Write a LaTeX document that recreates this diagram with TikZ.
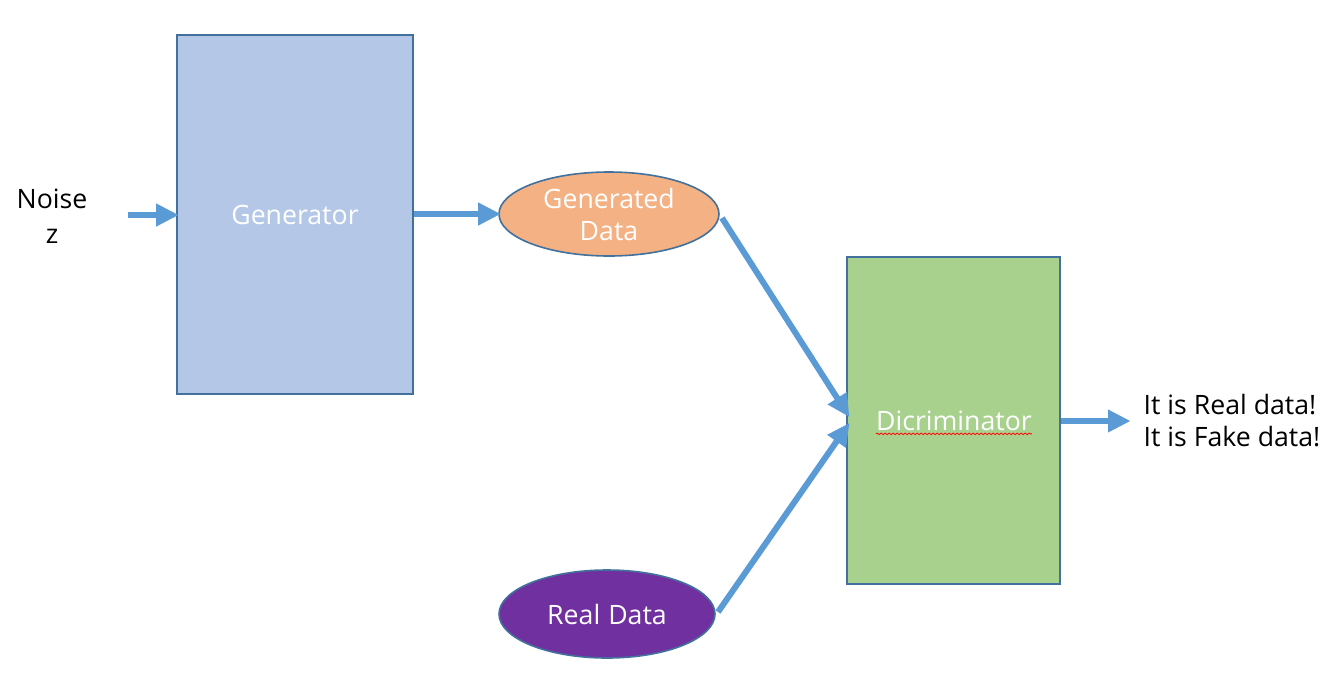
\documentclass[tikz,border=0pt]{standalone}
\usepackage{fontspec}
\setmainfont{Open Sans}
\usetikzlibrary{arrows.meta,shapes.geometric,decorations.pathmorphing}
\definecolor{genblue}{HTML}{B4C7E7}
\definecolor{edge}{HTML}{41719C}
\definecolor{arrowblue}{HTML}{5B9BD5}
\definecolor{orangefill}{HTML}{F4B183}
\definecolor{greenfill}{HTML}{A9D18E}
\definecolor{purplefill}{HTML}{7030A0}
\tikzset{
  box/.style={draw=edge, line width=1.2pt, inner sep=0pt, font=\fontsize{20}{24}\selectfont, text=white},
  oval/.style={ellipse, draw=edge, line width=1.2pt, inner sep=0pt, font=\fontsize{20}{24}\selectfont, text=white, align=center},
  flow/.style={draw=arrowblue, line width=4.5pt, -{Triangle[length=17pt,width=16pt]}, shorten >=-2pt},
  plain/.style={font=\fontsize{20}{24}\selectfont, text=black, align=center, inner sep=0pt}
}
\begin{document}
\begin{tikzpicture}[x=0.75pt,y=-0.75pt]
\useasboundingbox (0,0) rectangle (1339,690);
\node[box, fill=genblue, minimum width=236*0.75pt, minimum height=359*0.75pt] (gen) at (295,214.5) {Generator};
\node[box, fill=greenfill, minimum width=213*0.75pt, minimum height=327*0.75pt] (dis) at (953.5,420.5) {};
\node[font=\fontsize{20}{24}\selectfont, text=white, inner sep=0pt] (distext) at (954,421) {Dicriminator};
\draw[red, line width=0.6pt, decorate, decoration={snake, amplitude=0.6pt, segment length=3pt}]
  ([yshift=-2pt]distext.south west) -- ([yshift=-2pt]distext.south east);
\node[oval, fill=orangefill, minimum width=220*0.75pt, minimum height=84*0.75pt] (gd) at (609,214) {Generated\\Data};
\node[oval, fill=purplefill, minimum width=216*0.75pt, minimum height=88*0.75pt] (rd) at (607,614) {Real\hspace{0.3em}Data};
\node[plain, font=\fontsize{20}{26}\selectfont] (noise) at (52,216) {Noise\\z};
\node[plain, align=left] (out) at (1232,421) {It is Real data!\\It is Fake data!};
\coordinate (nstart) at (128,215);
\coordinate (oend) at (1128,421);
\coordinate (d1) at (848,415);
\coordinate (d2) at (848,425);
\coordinate (g1) at (722,218);
\coordinate (r1) at (718,612);
\draw[flow] (nstart) -- (gen.west |- nstart);
\draw[flow] (gen.east |- gd) -- (gd.west);
\draw[flow] (g1) -- (d1);
\draw[flow] (r1) -- (d2);
\draw[flow] (dis.east |- oend) -- (oend);
\end{tikzpicture}
\end{document}
